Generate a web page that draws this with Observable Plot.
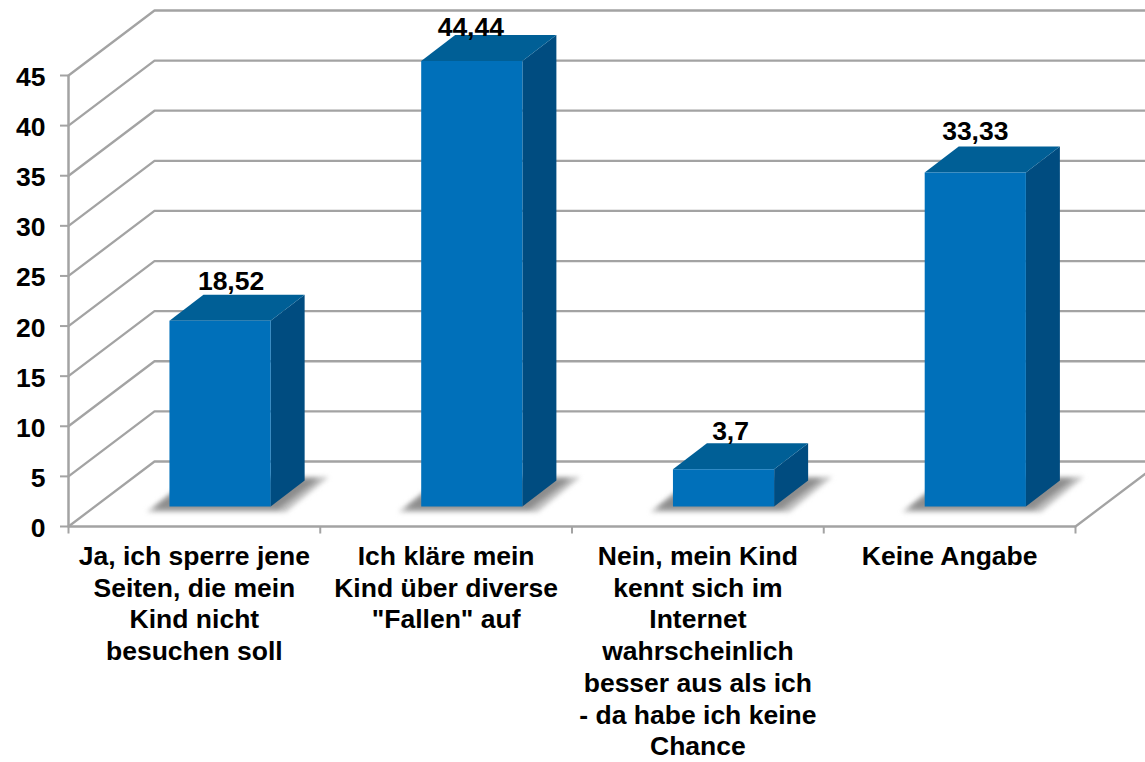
<!DOCTYPE html>
<html>
<head>
<meta charset="utf-8">
<script src="https://cdn.jsdelivr.net/npm/d3@7"></script>
<script src="https://cdn.jsdelivr.net/npm/@observablehq/plot@0.6"></script>
<style>html,body{margin:0;padding:0;background:#fff;overflow:hidden}</style>
</head>
<body>
<div id="chart"></div>
<script>
const categories = [
  "Ja, ich sperre jene\nSeiten, die mein\nKind nicht\nbesuchen soll",
  "Ich kläre mein\nKind über diverse\n\"Fallen\" auf",
  "Nein, mein Kind\nkennt sich im\nInternet\nwahrscheinlich\nbesser aus als ich\n- da habe ich keine\nChance",
  "Keine Angabe"
];
const values = [18.52, 44.44, 3.7, 33.33];
const valueLabels = ["18,52", "44,44", "3,7", "33,33"];
const yTicks = [0, 5, 10, 15, 20, 25, 30, 35, 40, 45];
const xTicks = [0, 1, 2, 3, 4];

// Oblique projection, in scale units
const wallDx = 0.3416, wallDy = 6.486;   // floor front -> back wall
const barDx = 0.135, barDy = 2.595;      // bar front -> bar back
const barLeft = 0.401, barRight = 0.803, barLift = 2;

const grey = "#a3a3a3";
const fontSize = 26.5;
const poly = (id, pts) => pts.map(([x, y]) => ({id, x, y}));

const gridRows = yTicks.flatMap(t => poly(t, [[0, t], [wallDx, t + wallDy], [4 + wallDx, t + wallDy]]));
const floorSide = poly("side", [[4, 0], [4 + wallDx, wallDy]]);

const faces = values.map((v, i) => {
  const l = i + barLeft, r = i + barRight, b = barLift, t = barLift + v;
  return {
    shadowOuter: poly(i, [[l - 0.09, b - 0.55], [r + 0.06, b - 0.55], [r + barDx + 0.095, b + barDy + 0.35], [l + barDx - 0.05, b + barDy + 0.35]]),
    shadowInner: poly(i, [[l - 0.065, b - 0.25], [r + 0.03, b - 0.25], [r + barDx + 0.055, b + barDy + 0.15], [l + barDx - 0.05, b + barDy + 0.15]]),
    front: poly(i, [[l, b], [r, b], [r, t], [l, t]]),
    side: poly(i, [[r, b], [r + barDx, b + barDy], [r + barDx, t + barDy], [r, t]]),
    top: poly(i, [[l, t], [r, t], [r + barDx, t + barDy], [l + barDx, t + barDy]])
  };
});
const faceMark = (key, fill, extra = {}) =>
  Plot.line(faces.flatMap(f => f[key]), {x: "x", y: "y", z: "id", fill, stroke: "none", ...extra});

const labelDx = [11, -1, 7, 0];
const labelDy = [-13, -8, -12, -15];

const chart = Plot.plot({
  width: 1145,
  height: 762,
  marginLeft: 68,
  marginRight: 70,
  marginTop: 75,
  marginBottom: 236,
  x: {domain: [0, 4], axis: null},
  y: {domain: [0, 45], axis: null},
  style: {fontFamily: "'Liberation Sans', Arial, sans-serif", fontWeight: "bold", fontSize: fontSize + "px", color: "#000", background: "#fff"},
  marks: [
    Plot.line(gridRows, {x: "x", y: "y", z: "id", stroke: grey, strokeWidth: 2.3}),
    Plot.line(floorSide, {x: "x", y: "y", stroke: grey, strokeWidth: 2.3}),
    Plot.ruleX([0], {y1: 0, y2: 45, stroke: grey, strokeWidth: 2.5}),
    Plot.ruleY([0], {x1: 0, x2: 4, stroke: grey, strokeWidth: 2.5}),
    Plot.ruleX(xTicks, {y1: 0, y2: -0.75, stroke: grey, strokeWidth: 2}),
    Plot.axisY({ticks: yTicks, tickSize: 8, text: null, stroke: grey, strokeWidth: 2, label: null}),
    Plot.axisY({ticks: yTicks, tickSize: 0, tickPadding: 23, dy: 2, fill: "#000", label: null, fontSize, fontWeight: "bold"}),
    faceMark("shadowOuter", "#c0c0c0", {imageFilter: "blur(2.5px)"}),
    faceMark("shadowInner", "#8c8c8c", {imageFilter: "blur(2.5px)"}),
    faceMark("side", "#004c80"),
    faceMark("top", "#005f96"),
    faceMark("front", "#0070ba"),
    ...values.map((v, i) => Plot.text([i], {
      x: d => d + (barLeft + barRight) / 2,
      y: () => v + barLift + barDy,
      text: () => valueLabels[i],
      dx: labelDx[i], dy: labelDy[i],
      fill: "#000", fontSize, fontWeight: "bold"
    })),
    Plot.text(categories, {
      x: (d, i) => i + 0.5,
      y: () => 0,
      text: d => d,
      lineAnchor: "top",
      dy: 16,
      lineHeight: 31.7 / fontSize,
      fill: "#000", fontSize, fontWeight: "bold"
    })
  ]
});
document.getElementById("chart").appendChild(chart);
</script>
</body>
</html>
